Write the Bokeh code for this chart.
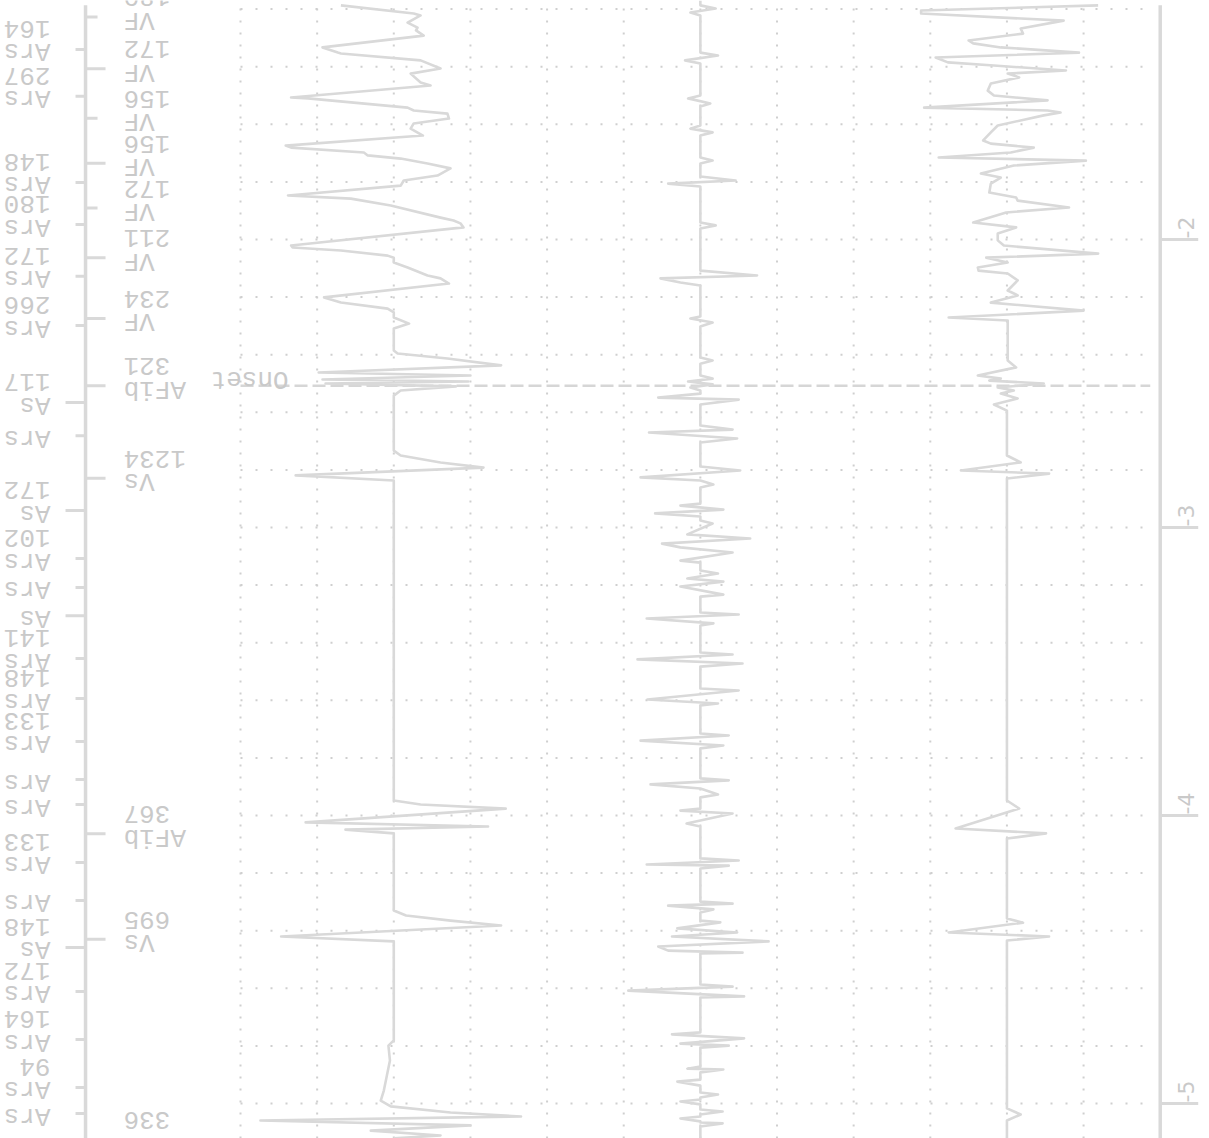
import numpy as np
from bokeh.plotting import figure
from bokeh.models import Range1d
from bokeh.embed import file_html
from bokeh.resources import INLINE
from bokeh.core.properties import value

# ---------------- data ----------------
# time in seconds, amplitude in grid units (channel baselines at 2, 6, 10)
ch1_t = [-1.187, -1.215, -1.222, -1.247, -1.264, -1.274, -1.292, -1.333, -1.351, -1.354, -1.378, -1.406,
         -1.424, -1.455, -1.465, -1.507, -1.510, -1.542, -1.552, -1.563, -1.580, -1.597, -1.615, -1.639,
         -1.674, -1.681, -1.698, -1.708, -1.719, -1.736, -1.753, -1.778, -1.795, -1.813, -1.847, -1.858,
         -1.882, -1.924, -1.934, -1.944, -1.958, -2.021, -2.028, -2.038, -2.056, -2.063, -2.080, -2.097,
         -2.125, -2.135, -2.153, -2.201, -2.219, -2.240, -2.253, -2.271, -2.292, -2.309, -2.385, -2.396,
         -2.413, -2.437, -2.462, -2.472, -2.486, -2.493, -2.500, -2.510, -2.524, -2.542, -2.733, -2.750,
         -2.774, -2.792, -2.819, -2.837, -3.948, -3.962, -3.976, -4.024, -4.038, -4.049, -4.062, -4.330,
         -4.347, -4.365, -4.382, -4.420, -4.437, -4.781, -4.799, -4.851, -4.903, -4.955, -4.990, -5.010,
         -5.031, -5.045, -5.059, -5.076, -5.094, -5.111, -5.121]
ch1_v = [-0.69, 0.26, 0.35, 0.18, 0.31, 0.29, 0.39, -0.93, -0.73, -0.69, 0.35, 0.61,
         0.22, 0.35, 0.48, -1.34, -1.12, 0.18, 0.26, 0.70, 0.72, 0.26, 0.22, 0.38,
         -1.41, -1.34, -0.39, -0.34, 0.09, 0.44, 0.74, 0.57, 0.13, 0.09, -1.38, -0.56,
         -0.04, 0.61, 0.78, 0.87, 0.91, -1.34, -1.32, -0.69, -0.08, 0.0, 0.0, 0.18,
         0.44, 0.61, 0.72, -0.91, -0.69, -0.08, 0.0, 0.0, 0.20, 0.0, 0.0, 0.05,
         0.70, 1.40, -0.98, 1.00, -0.93, 0.97, -0.89, 0.81, 0.09, 0.0, 0.0, 0.09,
         0.61, 1.17, -1.28, 0.0, 0.0, 0.35, 1.46, -1.15, 1.23, -0.63, 0.0, 0.0,
         0.16, 0.74, 1.40, -1.47, 0.0, 0.0, -0.07, -0.05, -0.09, -0.13, -0.17, -0.04,
         0.74, 1.66, -1.74, 1.00, -0.30, 0.61, 0.0]

ch2_t = [-1.170, -1.187, -1.198, -1.212, -1.222, -1.351, -1.361, -1.378, -1.389, -1.500, -1.510, -1.528,
         -1.538, -1.604, -1.615, -1.628, -1.639, -1.715, -1.726, -1.736, -1.781, -1.795, -1.806, -1.816,
         -1.941, -1.951, -1.962, -2.108, -2.125, -2.135, -2.149, -2.160, -2.267, -2.274, -2.288, -2.302,
         -2.410, -2.420, -2.431, -2.472, -2.483, -2.493, -2.503, -2.514, -2.524, -2.535, -2.549, -2.556,
         -2.573, -2.646, -2.660, -2.670, -2.691, -2.705, -2.788, -2.802, -2.826, -2.837, -2.851, -2.861,
         -2.917, -2.924, -2.938, -2.951, -2.962, -2.976, -2.986, -3.024, -3.038, -3.056, -3.069, -3.087,
         -3.115, -3.122, -3.149, -3.160, -3.177, -3.188, -3.205, -3.233, -3.240, -3.295, -3.302, -3.316,
         -3.333, -3.340, -3.434, -3.441, -3.458, -3.472, -3.483, -3.559, -3.566, -3.597, -3.611, -3.618,
         -3.715, -3.722, -3.740, -3.757, -3.767, -3.871, -3.878, -3.892, -3.906, -3.927, -3.937, -3.976,
         -3.983, -3.993, -4.028, -4.038, -4.149, -4.156, -4.170, -4.174, -4.184, -4.299, -4.306, -4.313,
         -4.326, -4.337, -4.365, -4.371, -4.392, -4.406, -4.420, -4.437, -4.455, -4.469, -4.476, -4.479,
         -4.587, -4.594, -4.608, -4.628, -4.632, -4.753, -4.760, -4.774, -4.792, -4.799, -4.806, -4.872,
         -4.879, -4.882, -4.892, -4.917, -4.924, -4.938, -4.962, -4.969, -4.979, -4.986, -4.993, -5.003,
         -5.021, -5.028, -5.038, -5.045, -5.052, -5.062, -5.066, -5.069, -5.080, -5.121]
ch2_v = [0.0, 0.0, 0.20, -0.13, 0.0, 0.0, 0.23, -0.20, 0.0, 0.0, -0.16, 0.13,
         0.0, 0.0, -0.13, 0.16, 0.0, 0.0, 0.16, 0.0, 0.0, 0.46, -0.42, 0.0,
         0.0, 0.20, 0.0, 0.0, 0.74, -0.52, -0.26, 0.0, 0.0, -0.13, 0.16, 0.0,
         0.0, 0.16, 0.0, 0.0, 0.16, -0.16, 0.16, -0.13, 0.0, 0.0, -0.55, 0.50,
         0.0, 0.0, 0.42, -0.67, 0.48, 0.0, 0.0, 0.52, -0.78, 0.0, 0.17, 0.0,
         0.0, -0.26, 0.30, -0.59, 0.0, 0.0, 0.16, -0.17, 0.65, -0.50, -0.26, 0.42,
         -0.26, 0.0, 0.0, 0.23, -0.17, 0.30, -0.26, 0.30, 0.0, 0.0, 0.50, -0.70,
         0.17, 0.0, 0.0, 0.42, -0.82, 0.55, 0.0, 0.0, 0.50, -0.69, 0.23, 0.0,
         0.0, 0.37, -0.78, 0.30, 0.0, 0.0, 0.37, -0.65, 0.0, 0.23, 0.0, 0.0,
         -0.26, 0.42, -0.18, 0.0, 0.0, 0.50, -0.70, 0.37, 0.0, 0.0, 0.42, -0.42,
         0.17, 0.0, 0.0, 0.26, -0.30, 0.48, -0.37, 0.89, -0.55, -0.42, 0.55, 0.0,
         0.0, 0.42, -0.94, 0.57, 0.0, 0.0, -0.37, 0.57, -0.26, 0.37, 0.0, 0.0,
         -0.17, 0.30, 0.0, 0.0, -0.30, 0.0, 0.0, 0.23, 0.0, 0.0, -0.26, 0.0,
         0.0, 0.29, 0.0, 0.0, -0.26, 0.0, 0.0, 0.29, 0.0, 0.0]

ch3_t = [-1.187, -1.205, -1.215, -1.240, -1.267, -1.285, -1.309, -1.319, -1.333, -1.351, -1.368, -1.385,
         -1.396, -1.413, -1.424, -1.437, -1.458, -1.483, -1.500, -1.517, -1.542, -1.552, -1.559, -1.569,
         -1.604, -1.628, -1.656, -1.667, -1.681, -1.698, -1.715, -1.726, -1.743, -1.771, -1.785, -1.806,
         -1.837, -1.854, -1.865, -1.889, -1.906, -1.941, -1.958, -1.979, -2.003, -2.021, -2.049, -2.063,
         -2.080, -2.097, -2.108, -2.118, -2.142, -2.177, -2.194, -2.219, -2.247, -2.271, -2.281, -2.420,
         -2.444, -2.472, -2.483, -2.490, -2.500, -2.514, -2.524, -2.535, -2.552, -2.573, -2.594, -2.750,
         -2.774, -2.802, -2.813, -2.830, -3.948, -3.976, -4.045, -4.062, -4.080, -4.358, -4.372, -4.406,
         -4.420, -4.434, -5.017, -5.038, -5.059, -5.121]
ch3_v = [1.19, -1.12, -1.12, 0.74, 0.18, 0.21, -0.50, -0.44, -0.08, 0.94, -0.93, -0.77,
         -0.17, 0.77, 0.01, 0.16, -0.21, -0.25, -0.17, 0.53, -1.08, 0.53, 0.70, 0.48,
         -0.12, -0.21, -0.31, -0.21, 0.35, 0.05, -0.89, 1.03, 0.09, -0.34, -0.08, -0.21,
         -0.23, 0.12, 0.14, 0.81, -0.01, -0.44, 0.12, -0.12, -0.12, -0.04, 1.19, -0.27,
         0.01, -0.38, -0.37, 0.01, 0.14, 0.01, 0.14, -0.21, 1.00, -0.76, 0.01, 0.01,
         0.12, -0.38, -0.08, -0.23, 0.48, -0.12, 0.09, -0.08, 0.14, -0.17, 0.0, 0.0,
         0.18, -0.60, 0.55, 0.0, 0.0, 0.16, -0.67, 0.51, 0.0, 0.0, 0.21, -0.76,
         0.55, 0.0, 0.0, 0.18, 0.0, 0.0]

# atrial marker channel
a_t = [-1.340, -1.503, -1.802, -1.948, -2.128, -2.299, -2.566, -2.681, -2.941, -3.108, -3.208, -3.306,
       -3.455, -3.594, -3.743, -3.875, -3.962, -4.163, -4.295, -4.458, -4.611, -4.778, -4.944, -5.035]
a_lab = ["Ars", "Ars", "Ars", "Ars", "Ars", "Ars", "As", "Ars", "As", "Ars", "Ars", "As",
         "Ars", "Ars", "Ars", "Ars", "Ars", "Ars", "Ars", "As", "Ars", "Ars", "Ars", "Ars"]
a_int = ["164", "297", "148", "180", "172", "266", "117", "", "172", "102", "", "",
         "141", "148", "133", "", "", "133", "", "148", "172", "164", "94", ""]

# ventricular marker channel
v_t = [-1.227, -1.407, -1.579, -1.735, -1.891, -2.063, -2.274, -2.508, -2.829, -4.063, -4.430, -5.125]
v_lab = ["VF", "VF", "VF", "VF", "VF", "VF", "VF", "AFib", "Vs", "AFib", "Vs", ""]
v_int = ["180", "172", "156", "156", "172", "211", "234", "321", "1234", "367", "695", "336"]
v_short = [True, False, True, False, True, False, False, False, False, False, False, False]

onset_t = -2.508
onset_label = "Onset"
time_ticks = [-2, -3, -4, -5]
time_tick_labels = ["-2", "-3", "-4", "-5"]
channel_base = [2, 6, 10]

# ---------------- layout / style ----------------
W, H = 1209, 1138
X0, X1 = -3.1315, 12.643
Y0, Y1 = -5.1215, -1.1701
PX = (X1 - X0) / W      # data units per pixel (x)
PY = (Y1 - Y0) / H      # data units per pixel (y)

LINE = "#d9d9d9"
GRID = "#cfcfcf"
TEXT = "#c9c9c9"
FONT = value("Liberation Mono")
FS = "26px"

p = figure(width=W, height=H, x_range=Range1d(X0, X1), y_range=Range1d(Y0, Y1),
           output_backend="svg", toolbar_location=None,
           x_axis_location=None, y_axis_location=None, min_border=0,
           outline_line_color=None, background_fill_color="white", border_fill_color="white")
p.grid.visible = False

GRID_RIGHT = 11.87
# dotted grid
hg = np.round(np.arange(-5.0, -1.15, 0.2), 3)
p.segment(x0=[0] * len(hg), x1=[GRID_RIGHT] * len(hg), y0=hg, y1=hg,
          line_color=GRID, line_width=2, line_dash="2 13")
vg = np.arange(0, 12)
p.segment(x0=vg, x1=vg, y0=[Y0] * len(vg), y1=[Y1] * len(vg),
          line_color=GRID, line_width=2, line_dash="2 10")

# onset
p.segment(x0=[0], x1=[GRID_RIGHT], y0=[onset_t], y1=[onset_t],
          line_color="#d6d6d6", line_width=2.5, line_dash="13 5")
p.text(x=[0 + 48 * PX], y=[onset_t + 7 * PY], text=[onset_label], angle=np.pi,
       text_align="left", text_baseline="alphabetic", text_font=FONT,
       text_font_size=FS, text_color=TEXT)

# traces
for tt, vv, base in [(ch1_t, ch1_v, channel_base[0]), (ch2_t, ch2_v, channel_base[1]),
                     (ch3_t, ch3_v, channel_base[2])]:
    p.line(x=np.array(vv) + base, y=tt, line_color=LINE, line_width=2.6, line_join="round")

# marker axis
MX = -2.022
p.segment(x0=[MX], x1=[MX], y0=[Y0], y1=[-1.187], line_color=LINE, line_width=3.5)
a_len = [20 if l == "As" else 10 for l in a_lab]
p.segment(x0=[MX - L * PX for L in a_len], x1=[MX] * len(a_t), y0=a_t, y1=a_t,
          line_color=LINE, line_width=3)
v_len = [12 if s else 20 for s in v_short]
p.segment(x0=[MX] * len(v_t), x1=[MX + L * PX for L in v_len], y0=v_t, y1=v_t,
          line_color=LINE, line_width=3)

AX_TEXT = MX - 35 * PX
p.text(x=[AX_TEXT] * len(a_t), y=np.array(a_t) - 2 * PY, text=a_lab, angle=np.pi,
       text_align="left", text_baseline="alphabetic", text_font=FONT,
       text_font_size=FS, text_color=TEXT)
p.text(x=[AX_TEXT] * len(a_t), y=np.array(a_t) + 20 * PY, text=a_int, angle=np.pi,
       text_align="left", text_baseline="alphabetic", text_font=FONT,
       text_font_size=FS, text_color=TEXT)
VX_TEXT = MX + 38 * PX
p.text(x=[VX_TEXT] * len(v_t), y=np.array(v_t) - 3 * PY, text=v_lab, angle=np.pi,
       text_align="right", text_baseline="alphabetic", text_font=FONT,
       text_font_size=FS, text_color=TEXT)
p.text(x=[VX_TEXT] * len(v_t), y=np.array(v_t) + 19 * PY, text=v_int, angle=np.pi,
       text_align="right", text_baseline="alphabetic", text_font=FONT,
       text_font_size=FS, text_color=TEXT)

# time axis on the right
TX = 12.0
p.segment(x0=[TX], x1=[TX], y0=[Y0], y1=[-1.187], line_color=LINE, line_width=3.5)
p.segment(x0=[TX] * len(time_ticks), x1=[TX + 38 * PX] * len(time_ticks),
          y0=time_ticks, y1=time_ticks, line_color=LINE, line_width=3)
p.text(x=[TX + 26 * PX] * len(time_ticks), y=np.array(time_ticks) + 1 * PY,
       text=time_tick_labels, angle=np.pi / 2, text_align="left", text_baseline="middle",
       text_font=value("DejaVu Sans"), text_font_size="22px", text_color=TEXT)

open("out.html", "w").write(file_html(p, INLINE))
